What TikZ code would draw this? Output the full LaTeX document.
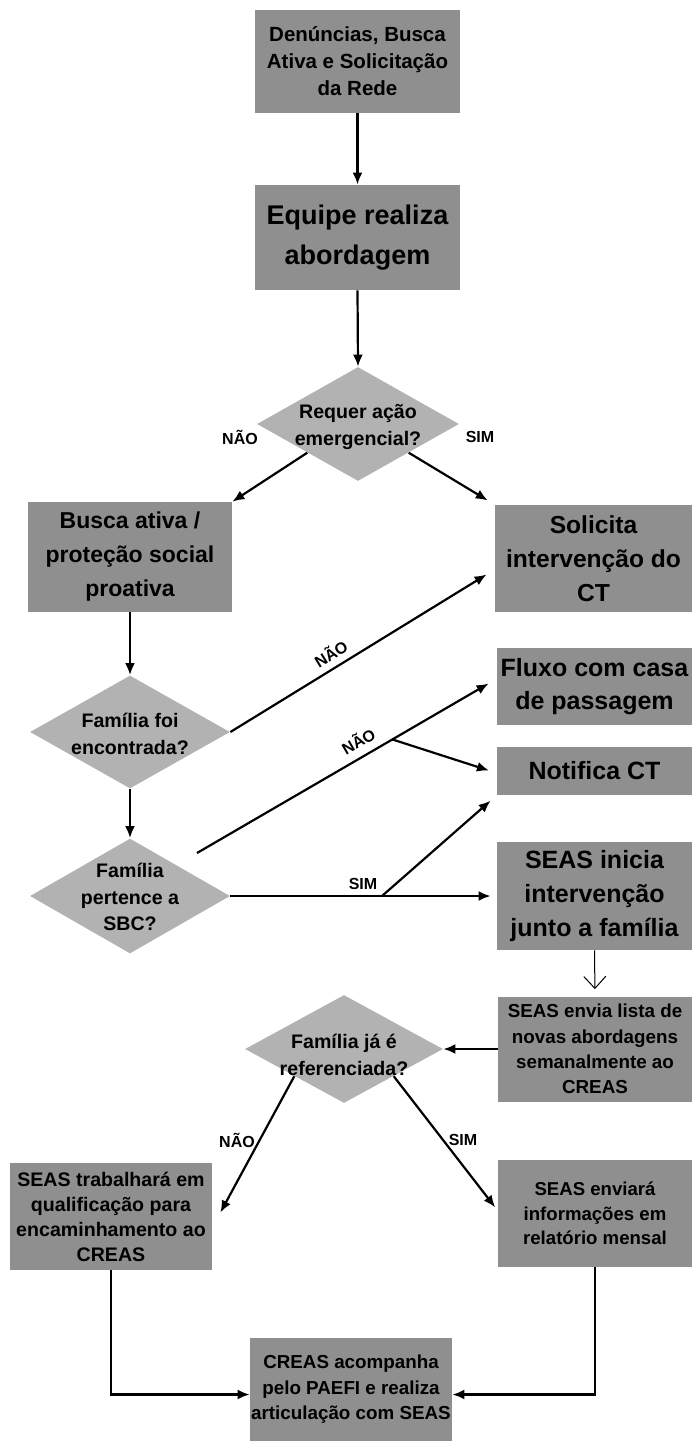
\documentclass[tikz,border=0pt]{standalone}
\usepackage{fontspec}
\setmainfont{Liberation Sans}
\usetikzlibrary{shapes.geometric,arrows.meta,calc}
\definecolor{boxgray}{gray}{0.56}
\definecolor{diagray}{gray}{0.70}
\begin{document}
\begin{tikzpicture}[x=0.5pt,y=-0.5pt,
  box/.style={fill=boxgray, inner sep=0pt, align=center},
  dia/.style={diamond, fill=diagray, inner sep=0pt},
  dtext/.style={align=center, inner sep=0pt, font=\bfseries\fontsize{9.8}{13.5}\selectfont},
  arr/.style={line width=1.1pt, -{Latex[length=6pt,width=5pt]}},
  thinarr/.style={line width=0.5pt, -{Straight Barb[length=6pt,width=11pt]}},
  lbl/.style={inner sep=1pt, font=\bfseries\fontsize{8}{9}\selectfont}]
\useasboundingbox (0,0) rectangle (692,1441);

% boxes
\node[box, minimum width=102.5pt, minimum height=51.5pt, font=\bfseries\fontsize{10.25}{13.5}\selectfont] (n1) at (357.5,61.5) {Denúncias, Busca\\Ativa e Solicitação\\da Rede};
\node[box, minimum width=102.5pt, minimum height=52.5pt, font=\bfseries\fontsize{13.5}{20}\selectfont] (n2) at (357.5,237.5) {Equipe realiza\\abordagem};
\node[dia, minimum width=101pt, minimum height=57pt] (d1) at (358,424) {};
\node[dtext] at (358,427) {Requer ação\\emergencial?};
\node[box, minimum width=102pt, minimum height=55pt, font=\bfseries\fontsize{11.5}{17}\selectfont] (n3) at (130,557) {Busca ativa /\\proteção social\\proativa};
\node[box, minimum width=98.5pt, minimum height=53.5pt, font=\bfseries\fontsize{12.3}{17}\selectfont] (n4) at (593.5,558.5) {Solicita\\intervenção do\\CT};
\node[dia, minimum width=100pt, minimum height=56.5pt] (d2) at (130,732) {};
\node[dtext] at (130,734) {Família foi\\encontrada?};
\node[dia, minimum width=100pt, minimum height=57.5pt] (d3) at (130,896) {};
\node[dtext, font=\bfseries\fontsize{9.8}{13.2}\selectfont] at (130,897) {Família\\pertence a\\SBC?};
\node[box, minimum width=97.5pt, minimum height=38.5pt, font=\bfseries\fontsize{12.5}{16.5}\selectfont] (n5) at (594.5,686.5) {Fluxo com casa\\de passagem};
\node[box, minimum width=97.5pt, minimum height=24pt, font=\bfseries\fontsize{12.5}{16.5}\selectfont] (n6) at (594.5,771) {Notifica CT};
\node[box, minimum width=97.5pt, minimum height=54pt, font=\bfseries\fontsize{12.5}{17}\selectfont] (n7) at (594.5,896) {SEAS inicia\\intervenção\\junto a família};
\node[box, minimum width=97pt, minimum height=52.5pt, font=\bfseries\fontsize{9.4}{12.6}\selectfont] (n8) at (595,1049) {SEAS envia lista de\\novas abordagens\\semanalmente ao\\CREAS};
\node[dia, minimum width=99pt, minimum height=54pt] (d4) at (344,1049) {};
\node[dtext] at (344,1055) {Família já é\\referenciada?};
\node[box, minimum width=101pt, minimum height=53.5pt, font=\bfseries\fontsize{9.8}{12.5}\selectfont] (n9) at (111,1216.5) {SEAS trabalhará em\\qualificação para\\encaminhamento ao\\CREAS};
\node[box, minimum width=97pt, minimum height=53.5pt, font=\bfseries\fontsize{9.3}{12.2}\selectfont] (n10) at (595,1213.5) {SEAS enviará\\informações em\\relatório mensal};
\node[box, minimum width=101pt, minimum height=51.5pt, font=\bfseries\fontsize{9.4}{12.8}\selectfont] (n11) at (351,1389.5) {CREAS acompanha\\pelo PAEFI e realiza\\articulação com SEAS};

% connectors
\draw[arr] (n1) -- (n2);
\draw[arr] (n2.south) -- (d1.north);
\coordinate (d1sw) at ($(d1.west)!0.5!(d1.south)$);
\coordinate (d1se) at ($(d1.east)!0.5!(d1.south)$);
\draw[arr] (d1sw) -- (n3.north east);
\draw[arr, shorten >=4pt] (d1se) -- (n4.north west);
\node[lbl] at (240,437) {NÃO};
\node[lbl] at (480,437) {SIM};

\draw[arr] (n3.south) -- (d2.north);
\draw[arr] (d2.south) -- (d3.north);

\coordinate (t4) at ($(n4.west)+(-8,16)$);
\draw[arr] (d2.east) -- (t4) node[lbl, pos=0.42, above, sloped, inner sep=3pt] {NÃO};

\coordinate (s3) at (197,853);
\coordinate (t5) at ($(n5.west)+(-8,-3)$);
\draw[arr] (s3) -- (t5) node[lbl, pos=0.58, above, sloped, inner sep=4pt] {NÃO};
\coordinate (b1) at ($(s3)!0.67!(t5)$);
\draw[arr, shorten >=4pt] (b1) -- (n6.west |- 0,773);

\draw[arr, shorten >=3pt] (d3.east) -- (d3.east -| n7.west);
\coordinate (b2) at (382,896);
\draw[arr, shorten >=4pt] (b2) -- (n6.south west);
\node[lbl] at (363,884) {SIM};

\draw[thinarr, shorten >=3.5pt] (n7.south) -- (n8.north);
\draw[arr] (n8.west) -- (d4.east);

\coordinate (d4sw) at ($(d4.west)!0.5!(d4.south)$);
\coordinate (d4se) at ($(d4.east)!0.5!(d4.south)$);
\draw[arr] (d4sw) -- ($(n9.east)+(8,-4)$);
\draw[arr, shorten >=2pt] (d4se) -- ($(n10.west)+(0,-3)$);
\node[lbl] at (237,1140) {NÃO};
\node[lbl] at (463,1140) {SIM};

\draw[arr] (n9.south) |- ($(n11.west)+(0,5)$);
\draw[arr] (n10.south) |- ($(n11.east)+(0,5)$);
\end{tikzpicture}
\end{document}
